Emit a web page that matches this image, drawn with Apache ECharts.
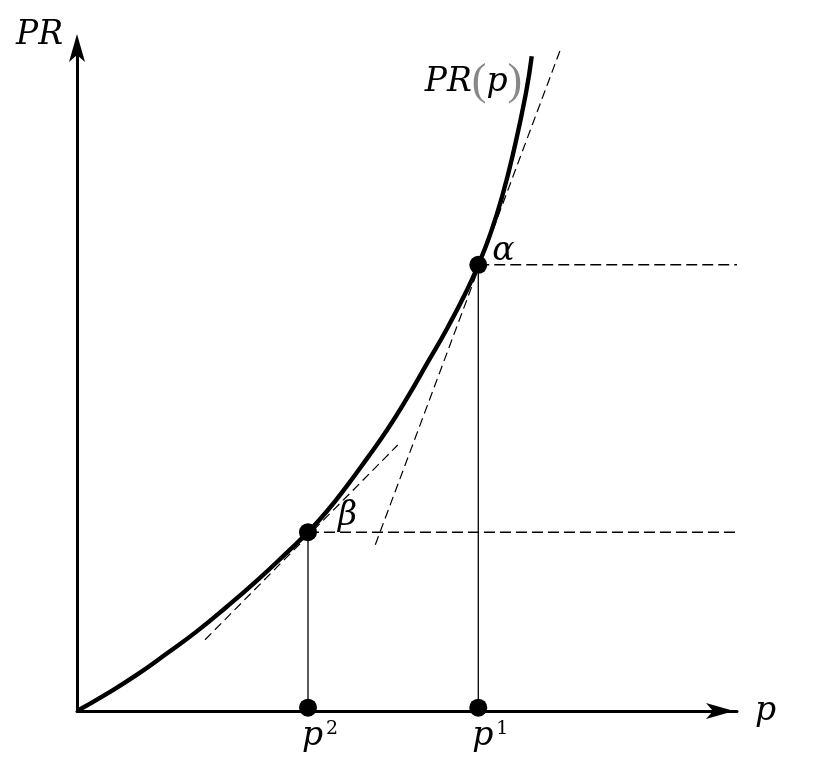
<!DOCTYPE html>
<html><head><meta charset="utf-8">
<script src="https://cdn.jsdelivr.net/npm/echarts@6.0.0/dist/echarts.min.js"></script>
<style>html,body{margin:0;padding:0;background:#fff}#c{width:813px;height:768px}</style>
</head><body><div id="c"></div><script>
// Curve PR(p)
const pCurve  = [0,0.45,0.91,1.36,1.82,2.27,2.73,3.18,3.5,3.79,4.09,4.39,4.70,5.00,5.30,5.61,5.91,6.08,6.26,6.44,6.62,6.80,6.89];
const prCurve = [0,0.26,0.55,0.87,1.21,1.58,1.98,2.40,2.71,3.03,3.41,3.82,4.26,4.74,5.26,5.80,6.38,6.76,7.22,7.79,8.50,9.35,9.92];
// marked points
const pPoints  = [6.08, 3.5];       // p1, p2
const prPoints = [6.76, 2.71];      // alpha, beta
const pointNames = ['α', 'β'];
const axisNames = ['1', '2'];
const pRight = 10;
// tangent lines [x0,y0,x1,y1]
const tangentBeta  = [1.94, 1.08, 4.86, 4.03];
const tangentAlpha = [4.52, 2.52, 7.35, 10.09];

const serif = "DejaVu Serif";
const FS = 33;
const curveData = pCurve.map((p,i)=>[p, prCurve[i]]);
const curveEnd = curveData[curveData.length-1];

const dashLine = (pts, dash, w) => ({
  type:'line', data:[[pts[0],pts[1]],[pts[2],pts[3]]], symbol:'none', silent:true, z:2,
  lineStyle:{color:'#000', width:w, type:dash}
});
const pLabel = (txt) => ({show:true, position:'bottom', distance:0, offset:[12,3], color:'#000', formatter:'{i|p}{s|'+txt+'}',
  rich:{i:{fontFamily:serif, fontStyle:'italic', fontSize:FS, color:'#000'},
        s:{fontFamily:serif, fontSize:19, verticalAlign:'top', padding:[0,0,0,3], color:'#000'}}});

const series = [
  dashLine(tangentBeta, [9,5], 1.2),
  dashLine(tangentAlpha, [9,5], 1.2),
  dashLine([pPoints[0], prPoints[0], pRight, prPoints[0]], [11,5], 1.5),
  dashLine([pPoints[1], prPoints[1], pRight, prPoints[1]], [11,5], 1.5),
  dashLine([pPoints[0], 0, pPoints[0], prPoints[0]], 'solid', 1.3),
  dashLine([pPoints[1], 0, pPoints[1], prPoints[1]], 'solid', 1.3),
  { type:'line', data:curveData, smooth:0.5, symbol:'none', showSymbol:false, z:5,
    lineStyle:{color:'#000', width:4.4} },
  { type:'scatter', symbolSize:1, z:6, silent:true, itemStyle:{color:'rgba(255,255,255,0)'},
    data:[{value:curveEnd, label:{show:true, position:'left', distance:5, offset:[-4,26], color:'#000', opacity:1,
      formatter:'{i|PR}{par|(}{i|p}{par|)}',
      rich:{ i:{fontFamily:serif, fontStyle:'italic', fontSize:FS, color:'#000'},
             par:{fontFamily:'Liberation Serif', fontSize:44, color:'#888'} } }}] },
  { type:'scatter', symbolSize:18, z:10, itemStyle:{color:'#000', opacity:1},
    data:[
      {value:[pPoints[0], prPoints[0]], label:{show:true, position:'right', distance:5, offset:[0,-13], formatter:pointNames[0],
        fontFamily:serif, fontStyle:'italic', fontSize:FS, color:'#000'}},
      {value:[pPoints[1], prPoints[1]], label:{show:true, position:'right', distance:5, offset:[16,-16], formatter:pointNames[1],
        fontFamily:serif, fontStyle:'italic', fontSize:FS, color:'#000'}},
      {value:[pPoints[0], 0.05], label:pLabel(axisNames[0])},
      {value:[pPoints[1], 0.05], label:pLabel(axisNames[1])}
    ]}
];

const axisCommon = {
  type:'value', min:0, max:10,
  axisTick:{show:false}, axisLabel:{show:false}, splitLine:{show:false}
};

const option = {
  animation:false,
  backgroundColor:'#fff',
  grid:{left:77, right:76, top:51, bottom:57},
  xAxis: Object.assign({}, axisCommon, {
    axisLine:{show:true, lineStyle:{color:'#000', width:3}, symbol:['none','arrow'], symbolSize:[12,28], symbolOffset:[0,-3]},
    name:'p', nameLocation:'end', nameGap:18,
    nameTextStyle:{fontFamily:serif, fontStyle:'italic', fontSize:FS, color:'#000', align:'left', verticalAlign:'middle', padding:[16,0,0,0]}
  }),
  yAxis: Object.assign({}, axisCommon, {
    axisLine:{show:true, lineStyle:{color:'#000', width:3}, symbol:['none','arrow'], symbolSize:[12,28], symbolOffset:[0,17]},
    name:'PR', nameLocation:'end', nameGap:16,
    nameTextStyle:{fontFamily:serif, fontStyle:'italic', fontSize:FS, color:'#000', align:'right', verticalAlign:'middle', padding:[0,14,0,0]}
  }),
  series
};
echarts.init(document.getElementById('c')).setOption(option);
</script></body></html>
